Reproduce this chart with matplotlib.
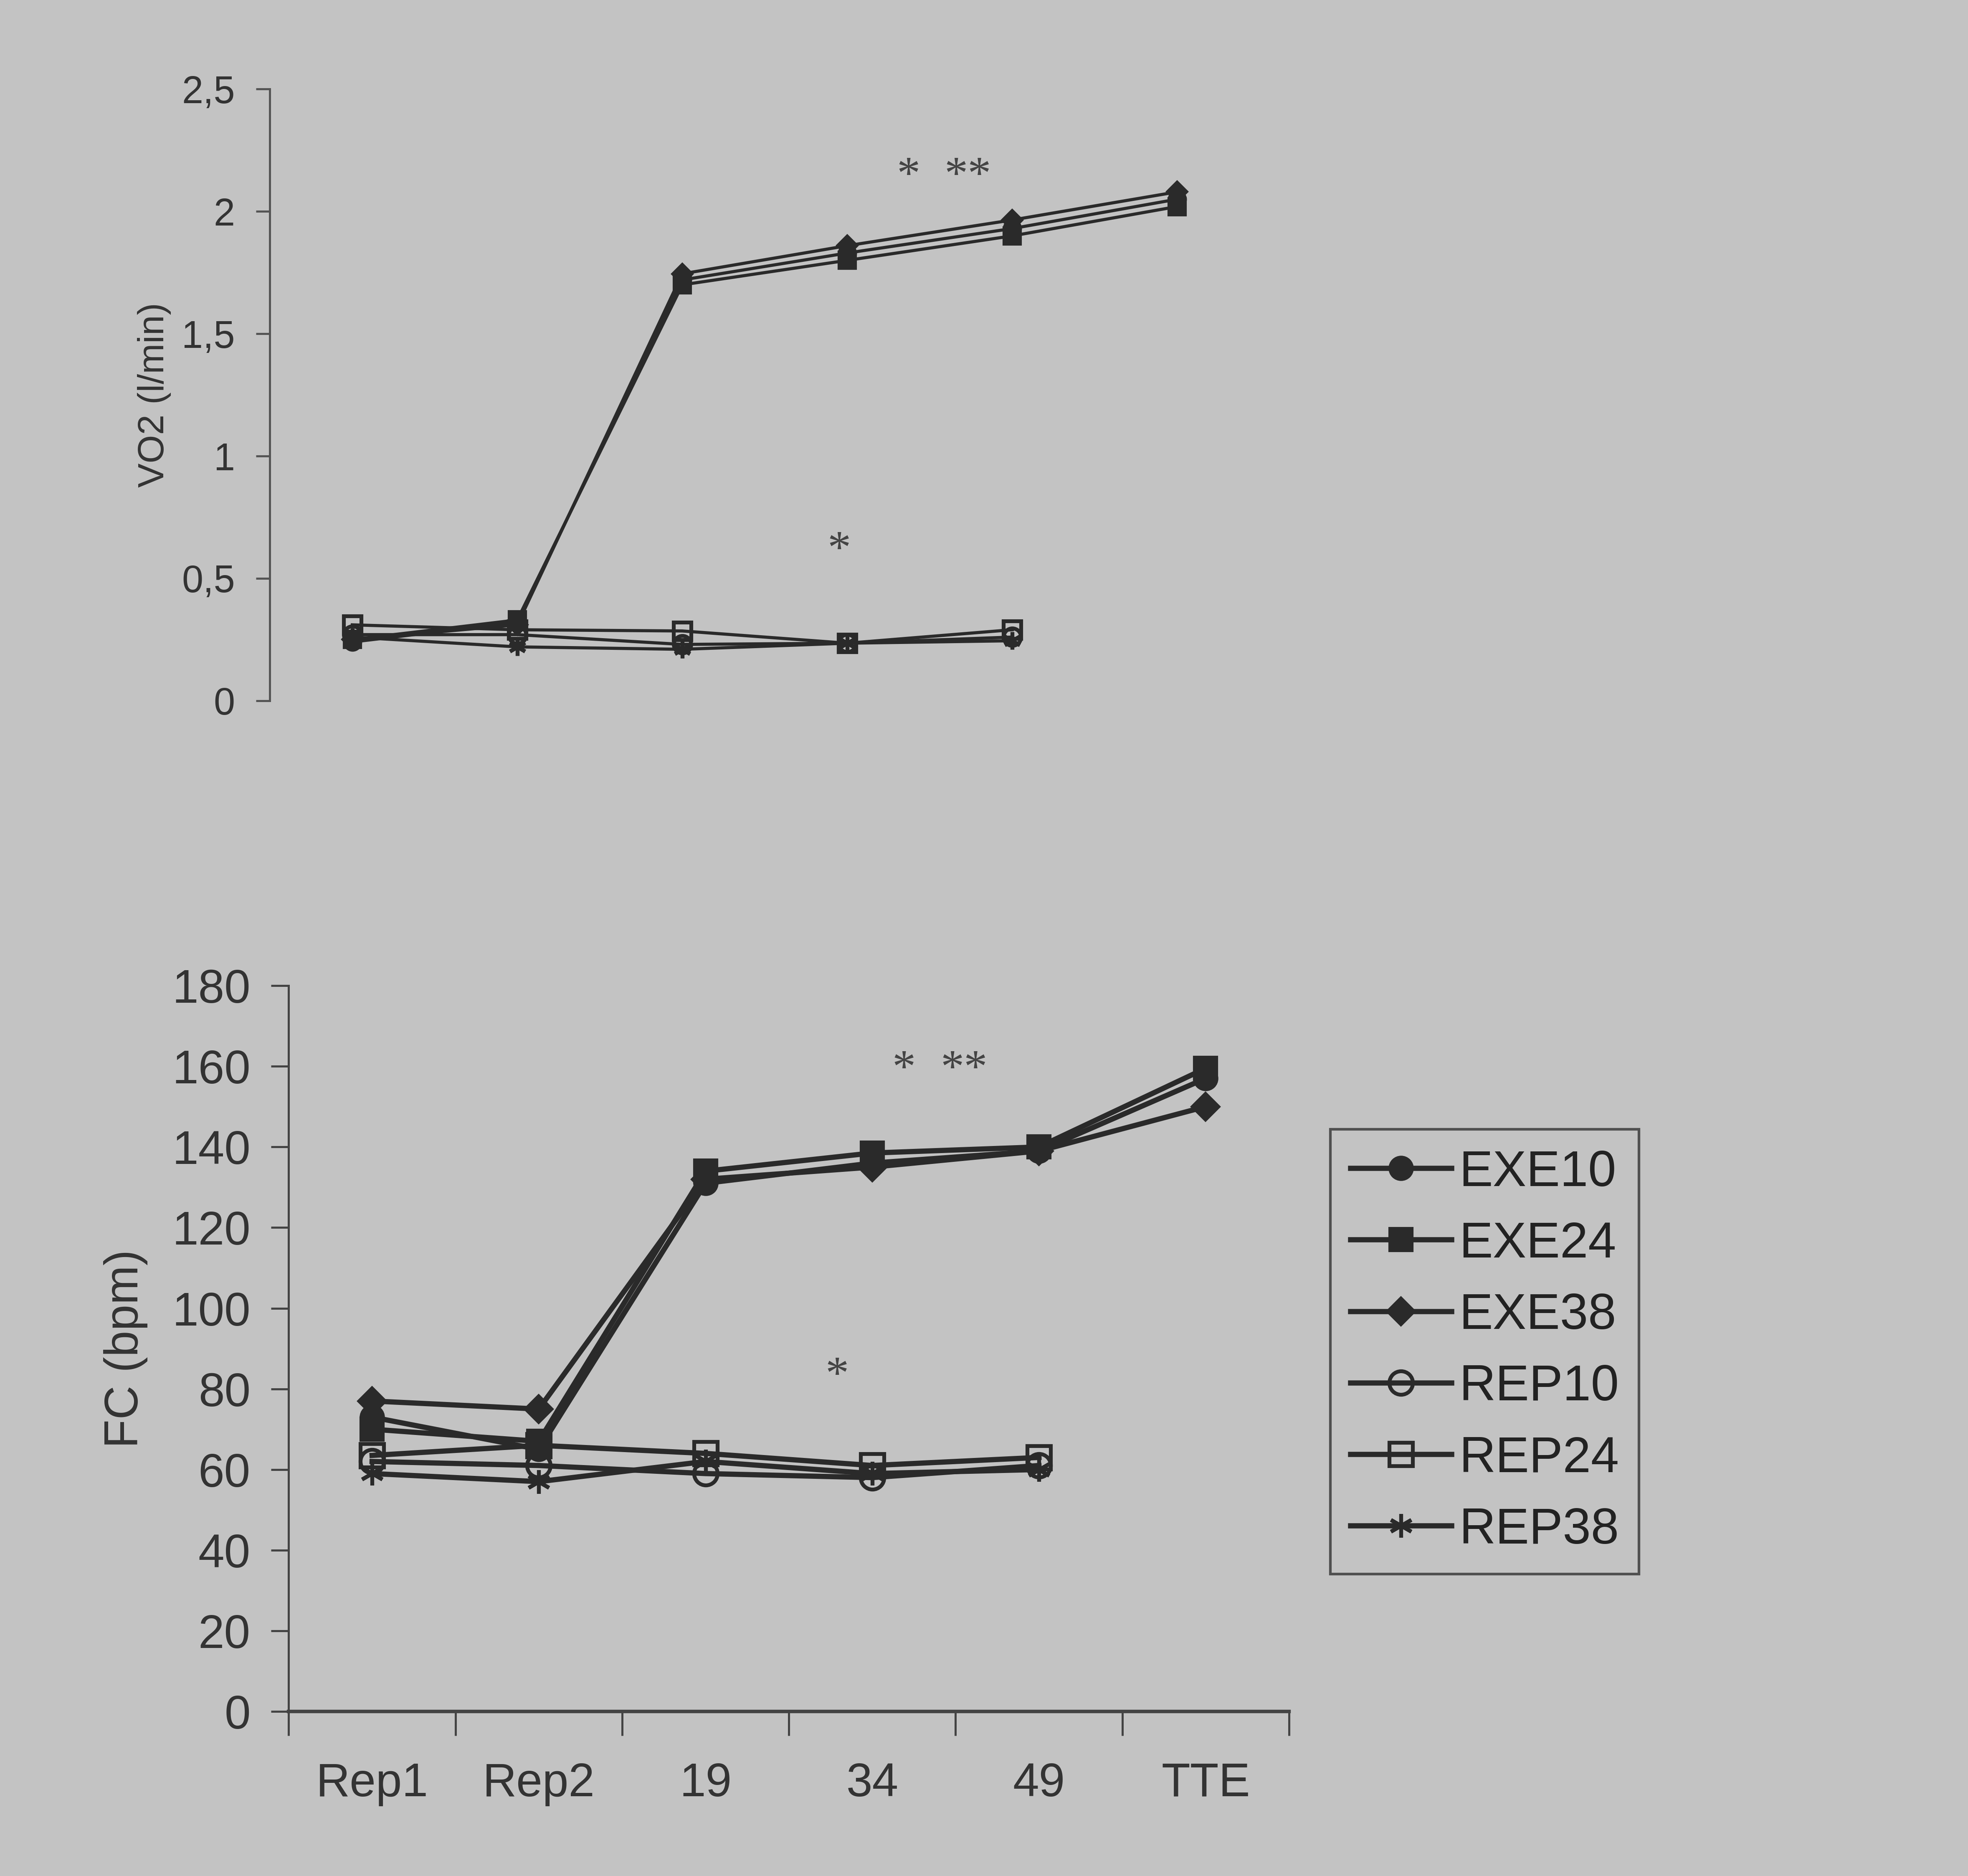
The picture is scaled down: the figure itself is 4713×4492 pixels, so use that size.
import matplotlib
matplotlib.use('Agg')
import matplotlib.pyplot as plt

# categories on the x axis
categories = ['Rep1', 'Rep2', '19', '34', '49', 'TTE']

# VO2 (l/min)
vo2_exe10 = [0.24, 0.32, 1.72, 1.83, 1.93, 2.05]
vo2_exe24 = [0.25, 0.33, 1.70, 1.80, 1.90, 2.02]
vo2_exe38 = [0.25, 0.31, 1.745, 1.86, 1.965, 2.08]
vo2_rep10 = [0.27, 0.27, 0.23, 0.235, 0.26]
vo2_rep24 = [0.31, 0.29, 0.285, 0.235, 0.29]
vo2_rep38 = [0.26, 0.22, 0.21, 0.235, 0.245]

# FC (bpm)
fc_exe10 = [73, 65, 131, 136, 139, 157]
fc_exe24 = [70, 67, 134, 138.5, 140, 159.5]
fc_exe38 = [77, 75, 132, 135, 139, 150]
fc_rep10 = [62, 61, 59, 58, 61]
fc_rep24 = [63.5, 66, 64, 61, 63]
fc_rep38 = [59, 57, 62, 59, 60]

labels = ['EXE10', 'EXE24', 'EXE38', 'REP10', 'REP24', 'REP38']
markers = ['o', 's', 'D', 'o', 's', (6, 2, 0)]
fills = ['full', 'full', 'full', 'none', 'none', 'none']

bg = '#c3c3c3'
ink = '#2a2a2a'
txt = '#333333'
narrow = ['Liberation Sans Narrow', 'Liberation Sans']
serif = ['Liberation Serif', 'DejaVu Serif']

plt.rcParams['font.family'] = ['Liberation Sans', 'DejaVu Sans']

fig = plt.figure(figsize=(4713 / 300, 4492 / 300), dpi=300, facecolor=bg)

x = list(range(len(categories)))


def style(m, fill, ms):
    kw = dict(marker=m, color=ink, markeredgecolor=ink)
    if m == 'D':
        kw.update(markersize=ms * 0.85, markerfacecolor=ink)
    elif fill == 'none':
        kw.update(markersize=ms, markerfacecolor='none', markeredgewidth=2.2)
    else:
        kw.update(markersize=ms, markerfacecolor=ink)
    return kw


# ---- top chart: VO2 ----
ax1 = fig.add_axes([0.1371, 0.6265, 0.503, 0.326])
ax1.set_facecolor('none')
vo2 = [vo2_exe10, vo2_exe24, vo2_exe38, vo2_rep10, vo2_rep24, vo2_rep38]
for vals, m, f in zip(vo2, markers, fills):
    ax1.plot(x[:len(vals)], vals, lw=1.8, **style(m, f, 10))
ax1.set_xlim(-0.5, 5.5)
ax1.set_ylim(0, 2.5)
ax1.set_yticks([0, 0.5, 1, 1.5, 2, 2.5])
ax1.set_yticklabels(['0', '0,5', '1', '1,5', '2', '2,5'], fontsize=22, color=txt)
ax1.set_xticks([])
for s in ['top', 'right', 'bottom']:
    ax1.spines[s].set_visible(False)
ax1.spines['left'].set_color('#555555')
ax1.spines['left'].set_linewidth(1.2)
ax1.tick_params(axis='y', direction='out', length=8, width=1.2, color='#555555', pad=12)
ax1.set_ylabel('VO2 (l/min)', fontsize=21, color=txt, labelpad=6)
ax1.text(3.37, 2.14, '*', fontsize=27, family=serif, color='#444444', ha='center', va='center')
ax1.text(3.73, 2.14, '**', fontsize=27, family=serif, color='#444444', ha='center', va='center')
ax1.text(2.95, 0.61, '*', fontsize=27, family=serif, color='#444444', ha='center', va='center')

# ---- bottom chart: FC ----
ax2 = fig.add_axes([0.1467, 0.0877, 0.5083, 0.3869])
ax2.set_facecolor('none')
fc = [fc_exe10, fc_exe24, fc_exe38, fc_rep10, fc_rep24, fc_rep38]
handles = []
for vals, m, f, lab in zip(fc, markers, fills, labels):
    h, = ax2.plot(x[:len(vals)], vals, lw=3.0, label=lab, **style(m, f, 13.5))
    handles.append(h)
ax2.set_xlim(-0.5, 5.5)
ax2.set_ylim(0, 180)
ax2.set_yticks(range(0, 181, 20))
ax2.tick_params(axis='y', direction='out', length=10, width=1.2, color='#444444', pad=12,
                labelsize=27, labelcolor=txt)
for lbl in ax2.get_yticklabels():
    lbl.set_family(narrow)
ax2.set_xticks(x)
ax2.set_xticklabels(categories, family=narrow, fontsize=27, color=txt)
ax2.tick_params(axis='x', which='major', length=0, pad=29)
ax2.set_xticks([i - 0.5 for i in range(len(categories) + 1)], minor=True)
ax2.tick_params(axis='x', which='minor', direction='out', length=14, width=1.2, color='#444444')
for s in ['top', 'right']:
    ax2.spines[s].set_visible(False)
ax2.spines['left'].set_color('#444444')
ax2.spines['left'].set_linewidth(1.2)
ax2.spines['bottom'].set_color('#444444')
ax2.spines['bottom'].set_linewidth(2.0)
ax2.set_ylabel('FC (bpm)', fontsize=27, color=txt, labelpad=14)
ax2.text(3.19, 159, '*', fontsize=27, family=serif, color='#444444', ha='center', va='center')
ax2.text(3.55, 159, '**', fontsize=27, family=serif, color='#444444', ha='center', va='center')
ax2.text(2.79, 83, '*', fontsize=27, family=serif, color='#444444', ha='center', va='center')

leg = fig.legend(handles=handles, loc='upper left', bbox_to_anchor=(0.676, 0.398),
                 fontsize=29, frameon=True, fancybox=False, facecolor=bg, edgecolor='#333333',
                 handlelength=2.0, handletextpad=0.15, labelspacing=0.49, borderpad=0.4,
                 borderaxespad=0)
leg.get_frame().set_linewidth(1.5)
for t in leg.get_texts():
    t.set_color('#222222')

fig.savefig('out.png', dpi=300, facecolor=bg)
